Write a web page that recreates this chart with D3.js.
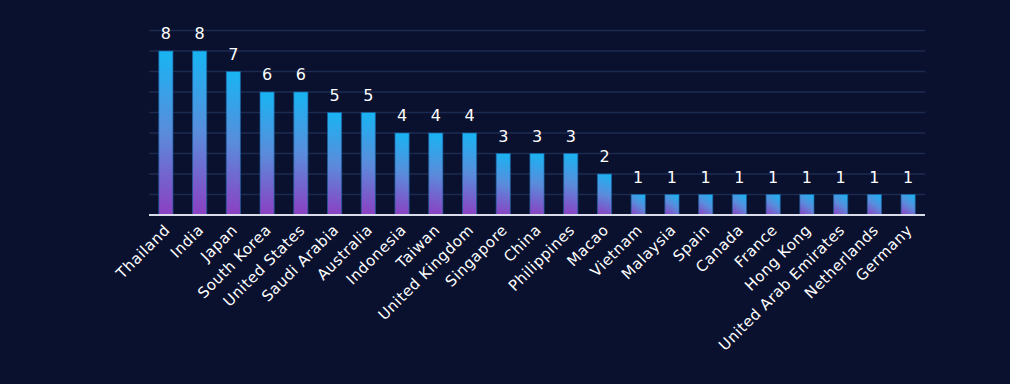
<!DOCTYPE html>
<html>
<head>
<meta charset="utf-8">
<script src="https://cdn.jsdelivr.net/npm/d3@7"></script>
<style>
  html, body { margin: 0; padding: 0; background: #09112f; }
  svg { display: block; }
</style>
</head>
<body>
<svg id="chart" width="1010" height="384"></svg>
<script>
const countries = ["Thailand", "India", "Japan", "South Korea", "United States", "Saudi Arabia",
  "Australia", "Indonesia", "Taiwan", "United Kingdom", "Singapore", "China", "Philippines",
  "Macao", "Vietnam", "Malaysia", "Spain", "Canada", "France", "Hong Kong",
  "United Arab Emirates", "Netherlands", "Germany"];
const counts = [8, 8, 7, 6, 6, 5, 5, 4, 4, 4, 3, 3, 3, 2, 1, 1, 1, 1, 1, 1, 1, 1, 1];
const gridValues = [1, 2, 3, 4, 5, 6, 7, 8, 9];

const fontFam = "'DejaVu Sans', sans-serif";
const svg = d3.select('#chart');

const x = d3.scaleBand()
  .domain(countries)
  .range([149, 925])
  .paddingInner(0.58)
  .paddingOuter(0.29);

const y = d3.scaleLinear()
  .domain([0, 9])
  .range([215, 30.5]);

// one gradient per bar, from top-right corner to bottom-left corner
const defs = svg.append('defs');
const grads = defs.selectAll('linearGradient')
  .data(countries)
  .enter()
  .append('linearGradient')
  .attr('id', (d, i) => 'g' + i)
  .attr('gradientUnits', 'userSpaceOnUse')
  .attr('x1', d => x(d) + x.bandwidth())
  .attr('y1', (d, i) => y(counts[i]))
  .attr('x2', d => x(d))
  .attr('y2', y(0));
grads.append('stop').attr('offset', '0%').attr('stop-color', '#17b5f3');
grads.append('stop').attr('offset', '50%').attr('stop-color', '#5a8cdb');
grads.append('stop').attr('offset', '100%').attr('stop-color', '#8c3fc2');

// grid lines
svg.append('g')
  .selectAll('line')
  .data(gridValues)
  .enter()
  .append('line')
  .attr('x1', 149).attr('x2', 925)
  .attr('y1', d => y(d)).attr('y2', d => y(d))
  .attr('stroke', '#1c2a50')
  .attr('stroke-width', 1.5);

// bars
svg.append('g')
  .selectAll('rect')
  .data(countries)
  .enter()
  .append('rect')
  .attr('x', d => x(d))
  .attr('y', (d, i) => y(counts[i]))
  .attr('width', x.bandwidth())
  .attr('height', (d, i) => y(0) - y(counts[i]))
  .attr('fill', (d, i) => `url(#g${i})`)
  .attr('stroke', '#1d5f9c')
  .attr('stroke-opacity', 0.7)
  .attr('stroke-width', 1);

// baseline
svg.append('line')
  .attr('x1', 149).attr('x2', 925)
  .attr('y1', y(0)).attr('y2', y(0))
  .attr('stroke', '#d9dcea')
  .attr('stroke-width', 2);

// value labels
svg.append('g')
  .selectAll('text')
  .data(countries)
  .enter()
  .append('text')
  .attr('x', d => x(d) + x.bandwidth() / 2)
  .attr('y', (d, i) => y(counts[i]) - 12)
  .attr('text-anchor', 'middle')
  .attr('fill', '#ffffff')
  .style('font-family', fontFam)
  .style('font-size', '16px')
  .text((d, i) => counts[i]);

// category labels
svg.append('g')
  .selectAll('text')
  .data(countries)
  .enter()
  .append('text')
  .attr('transform', d => `translate(${x(d) + x.bandwidth() / 2 + 5}, 231) rotate(-45)`)
  .attr('text-anchor', 'end')
  .attr('fill', '#ffffff')
  .style('font-family', fontFam)
  .style('font-size', '15px')
  .style('letter-spacing', '0.5px')
  .text(d => d);
</script>
</body>
</html>
